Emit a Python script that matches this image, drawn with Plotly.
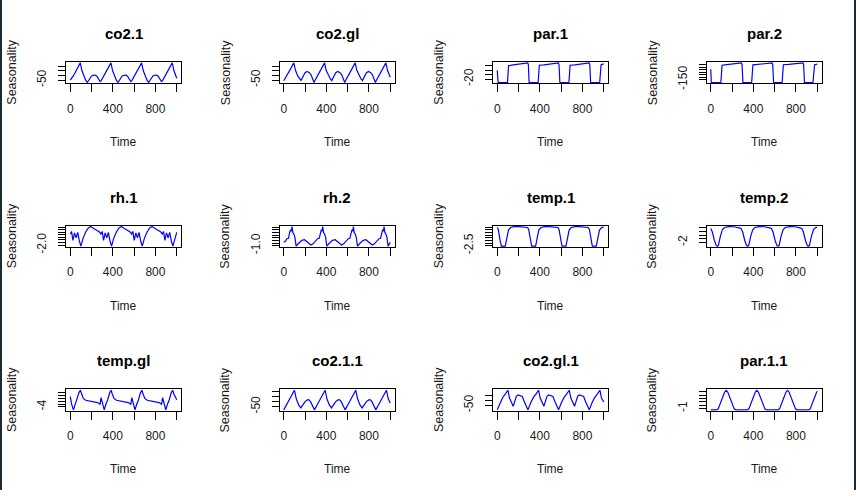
import plotly.graph_objects as go

# seasonal component of each series
co2_1_t = [0, 30, 60, 94, 110, 130, 145, 160, 180, 200, 220, 235, 250, 265, 280,
           288, 318, 348, 382, 398, 418, 433, 448, 468, 488, 508, 523, 538, 553, 568,
           576, 606, 636, 670, 686, 706, 721, 736, 756, 776, 796, 811, 826, 841, 856,
           864, 894, 924, 958, 974, 994, 1000]
co2_1_v = [-48, -1, 63, 137, 52, -11, -50, -75, -43, -5, 3, 6, -7, -33, -64,
           -60, -1, 63, 137, 52, -11, -50, -75, -43, -5, 3, 6, -7, -33, -64,
           -60, -1, 63, 137, 52, -11, -50, -75, -43, -5, 3, 6, -7, -33, -64,
           -60, -1, 63, 137, 52, -11, -28]

co2_gl_t = [0, 30, 60, 95, 110, 130, 150, 163, 180, 200, 220, 240, 255, 270, 285,
            288, 318, 348, 383, 398, 418, 438, 451, 468, 488, 508, 528, 543, 558, 573,
            576, 606, 636, 671, 686, 706, 726, 739, 756, 776, 796, 816, 831, 846, 861,
            864, 894, 924, 959, 974, 994, 1000]
co2_gl_v = [-58, -2, 64, 137, 56, -2, -38, -56, -13, 30, 43, 30, 9, -38, -77,
            -66, -2, 64, 137, 56, -2, -38, -56, -13, 30, 43, 30, 9, -38, -77,
            -66, -2, 64, 137, 56, -2, -38, -56, -13, 30, 43, 30, 9, -38, -77,
            -66, -2, 64, 137, 56, -2, -20]

par_1_t = [0, 8, 96, 106, 150, 200, 250, 286, 292, 299,
           384, 395, 440, 490, 540, 574, 580, 588,
           673, 684, 730, 780, 830, 863, 869, 877,
           962, 975, 1000]
par_1_v = [19, -35.5, -35.5, 40, 44, 46, 48, 52.5, 45, -35.5,
           -35.5, 42, 44, 46, 48, 52.5, 45, -35.5,
           -35.5, 42, 44, 46, 48, 52.5, 45, -35.5,
           -35.5, 44, 48]

par_2_t = [0, 5, 95, 106, 150, 200, 250, 288, 294, 302,
           384, 396, 440, 490, 540, 576, 582, 590,
           670, 682, 730, 780, 830, 866, 872, 880,
           960, 975, 1000]
par_2_v = [60, -206, -206, 140, 150, 160, 168, 186, 150, -206,
           -206, 148, 155, 162, 170, 186, 150, -206,
           -206, 150, 156, 162, 170, 186, 150, -206,
           -206, 150, 160]

rh_1_t = [0, 12, 25, 40, 55, 70, 86, 100, 120, 145, 170, 192, 220, 250, 275,
          288, 300, 313, 328, 343, 358, 374, 388, 408, 433, 458, 480, 508, 538, 563,
          576, 588, 601, 616, 631, 646, 662, 676, 696, 721, 746, 768, 796, 826, 851,
          864, 876, 889, 904, 919, 934, 950, 964, 984, 1000]
rh_1_v = [0.16, 0.65, -1.06, 0.38, -0.6, 0.46, -1.25, -2.2, -0.68, 0.54, 1.33, 1.6, 1.22, 0.92, 0.54,
          0.16, 0.65, -1.06, 0.38, -0.6, 0.46, -1.25, -2.2, -0.68, 0.54, 1.33, 1.6, 1.22, 0.92, 0.54,
          0.16, 0.65, -1.06, 0.38, -0.6, 0.46, -1.25, -2.2, -0.68, 0.54, 1.33, 1.6, 1.22, 0.92, 0.54,
          0.16, 0.65, -1.06, 0.38, -0.6, 0.46, -1.25, -2.2, -0.68, 0.46]

rh_2_t = [0, 15, 30, 45, 55, 65, 72, 78, 85, 95, 105, 116, 140, 170, 195, 225, 255, 275,
          288, 303, 318, 333, 343, 353, 360, 366, 373, 383, 393, 404, 428, 458, 483, 513, 543, 563,
          576, 591, 606, 621, 631, 641, 648, 654, 661, 671, 681, 692, 716, 746, 771, 801, 831, 851,
          864, 879, 894, 909, 919, 929, 936, 942, 949, 959, 969, 980, 1000]
rh_2_v = [-0.36, -0.18, 0.31, 0.38, 1.49, 2.01, 1.71, 2.6, 1.49, 1.19, 0.57, -1.1, -0.55, 0.01, 0.12, -0.36, -0.88, -0.66,
          -0.36, -0.18, 0.31, 0.38, 1.49, 2.01, 1.71, 2.6, 1.49, 1.19, 0.57, -1.1, -0.55, 0.01, 0.12, -0.36, -0.88, -0.66,
          -0.36, -0.18, 0.31, 0.38, 1.49, 2.01, 1.71, 2.6, 1.49, 1.19, 0.57, -1.1, -0.55, 0.01, 0.12, -0.36, -0.88, -0.66,
          -0.36, -0.18, 0.31, 0.38, 1.49, 2.01, 1.71, 2.6, 1.49, 1.19, 0.57, -1.1, -0.36]

temp_1_t = [0, 10, 25, 38, 75, 90, 105, 125, 160, 200, 240, 270,
            285, 295, 310, 323, 360, 375, 390, 410, 445, 485, 525, 555,
            570, 580, 595, 608, 645, 660, 675, 695, 730, 770, 810, 840,
            855, 865, 880, 893, 930, 945, 960, 980, 1000]
temp_1_v = [0.92, 0.55, -1.3, -2.6, -2.6, -0.94, 0.43, 0.92, 1.1, 1.08, 1.03, 0.95,
            0.92, 0.55, -1.3, -2.6, -2.6, -0.94, 0.43, 0.92, 1.1, 1.08, 1.03, 0.95,
            0.92, 0.55, -1.3, -2.6, -2.6, -0.94, 0.43, 0.92, 1.1, 1.08, 1.03, 0.95,
            0.92, 0.55, -1.3, -2.6, -2.6, -0.94, 0.43, 0.92, 0.99]

temp_2_t = [0, 15, 35, 52, 62, 72, 90, 110, 130, 170, 220, 260, 275,
            285, 300, 320, 337, 347, 357, 375, 395, 415, 455, 505, 545, 560,
            570, 585, 605, 622, 632, 642, 660, 680, 700, 740, 790, 830, 845,
            855, 870, 890, 907, 917, 927, 945, 965, 985, 1000]
temp_2_v = [1.77, 0.82, -1.52, -2.84, -3.0, -2.79, -0.35, 1.5, 2.04, 2.3, 2.25, 2.09, 1.88,
            1.77, 0.82, -1.52, -2.84, -3.0, -2.79, -0.35, 1.5, 2.04, 2.3, 2.25, 2.09, 1.88,
            1.77, 0.82, -1.52, -2.84, -3.0, -2.79, -0.35, 1.5, 2.04, 2.3, 2.25, 2.09, 1.88,
            1.77, 0.82, -1.52, -2.84, -3.0, -2.79, -0.35, 1.5, 2.04, 2.1]

temp_gl_t = [0, 12, 30, 45, 62, 82, 95, 105, 122, 145, 185, 225, 255, 272, 280,
             289, 301, 319, 334, 351, 371, 384, 394, 411, 434, 474, 514, 544, 561, 569,
             578, 590, 608, 623, 640, 660, 673, 683, 700, 723, 763, 803, 833, 850, 858,
             867, 879, 897, 912, 929, 949, 962, 972, 989, 1000]
temp_gl_v = [-0.38, -2.96, -5.0, -3.16, -1.6, 0.98, 1.8, 0.58, -1.06, -1.67, -1.94, -2.14, -2.48, -2.82, -3.16,
             -0.78, -2.96, -5.0, -3.16, -1.6, 0.98, 1.8, 0.58, -1.06, -1.67, -1.94, -2.14, -2.48, -2.82, -3.16,
             -0.78, -2.96, -5.0, -3.16, -1.6, 0.98, 1.8, 0.58, -1.06, -1.67, -1.94, -2.14, -2.48, -2.82, -3.16,
             -0.78, -2.96, -5.0, -3.16, -1.6, 0.98, 1.8, 0.58, -1.06, -1.5]

co2_1_1_t = [0, 30, 65, 100, 118, 140, 160, 175, 200, 225, 240, 255, 270, 285,
             288, 318, 353, 388, 406, 428, 448, 463, 488, 513, 528, 543, 558, 573,
             576, 606, 641, 676, 694, 716, 736, 751, 776, 801, 816, 831, 846, 861,
             864, 894, 929, 964, 982, 1000]
co2_1_1_v = [-82, -22, 48, 118, 28, -32, -62, -42, 2, 22, 18, -6, -46, -76,
             -82, -22, 48, 118, 28, -32, -62, -42, 2, 22, 18, -6, -46, -76,
             -82, -22, 48, 118, 28, -32, -62, -42, 2, 22, 18, -6, -46, -76,
             -82, -22, 48, 118, 28, -12]

co2_gl_1_t = [0, 25, 50, 75, 100, 115, 135, 150, 165, 180, 195, 215, 235, 255, 275,
              288, 313, 338, 363, 388, 403, 423, 438, 453, 468, 483, 503, 523, 543, 563,
              576, 601, 626, 651, 676, 691, 711, 726, 741, 756, 771, 791, 811, 831, 851,
              864, 889, 914, 939, 964, 979, 1000]
co2_gl_1_v = [-94, -27, 25, 60, 98, 21, -36, -59, -8, 40, 52, 48, 37, -17, -71,
              -94, -27, 25, 60, 98, 21, -36, -59, -8, 40, 52, 48, 37, -17, -71,
              -94, -27, 25, 60, 98, 21, -36, -59, -8, 40, 52, 48, 37, -17, -71,
              -94, -27, 25, 60, 98, 21, -17]

par_1_1_t = [0, 55, 70, 90, 110, 130, 145, 160, 180, 200, 220, 235,
             288, 343, 358, 378, 398, 418, 433, 448, 468, 488, 508, 523,
             576, 631, 646, 666, 686, 706, 721, 736, 756, 776, 796, 811,
             864, 919, 934, 954, 974, 994, 1000]
par_1_1_v = [-1.4, -1.4, -1.1, 0.37, 2.26, 3.91, 4.5, 3.91, 2.14, 0.25, -1.1, -1.4,
             -1.4, -1.4, -1.1, 0.37, 2.26, 3.91, 4.5, 3.91, 2.14, 0.25, -1.1, -1.4,
             -1.4, -1.4, -1.1, 0.37, 2.26, 3.91, 4.5, 3.91, 2.14, 0.25, -1.1, -1.4,
             -1.4, -1.4, -1.1, 0.37, 2.26, 3.91, 4.2]

titles = ["co2.1", "co2.gl", "par.1", "par.2",
          "rh.1", "rh.2", "temp.1", "temp.2",
          "temp.gl", "co2.1.1", "co2.gl.1", "par.1.1"]

series = [(co2_1_t, co2_1_v), (co2_gl_t, co2_gl_v), (par_1_t, par_1_v), (par_2_t, par_2_v),
          (rh_1_t, rh_1_v), (rh_2_t, rh_2_v), (temp_1_t, temp_1_v), (temp_2_t, temp_2_v),
          (temp_gl_t, temp_gl_v), (co2_1_1_t, co2_1_1_v), (co2_gl_1_t, co2_gl_1_v), (par_1_1_t, par_1_1_v)]

# y ticks per panel; R only had room to print the lowest label
y_ticks = [[-50, 0, 50, 100], [-50, 0, 50, 100], [-20, 0, 20, 40],
           [-150, -100, -50, 0, 50, 100, 150],
           [-2.0, -1.5, -1.0, -0.5, 0, 0.5, 1.0, 1.5],
           [-1.0, -0.5, 0, 0.5, 1.0, 1.5, 2.0, 2.5],
           [-2.5, -2.0, -1.5, -1.0, -0.5, 0, 0.5, 1.0],
           [-2, -1, 0, 1, 2], [-4, -3, -2, -1, 0, 1],
           [-50, 0, 50, 100], [-50, 0, 50], [-1, 0, 1, 2, 3, 4]]
y_labels = ["-50", "-50", "-20", "-150", "-2.0", "-1.0", "-2.5", "-2", "-4", "-50", "-50", "-1"]

x_ticks = [0, 200, 400, 600, 800, 1000]
x_labels = ["0", "", "400", "", "800", ""]

W, H = 856, 497
col_left = [66, 279.5, 493, 706.5]
row_top = [63, 229, 395]
box_w, box_h = 115, 21.5
FONT = "Liberation Sans, Arial, sans-serif"

fig = go.Figure()
annotations = []
layout_axes = {}

for i, (t, v) in enumerate(series):
    r, c = divmod(i, 4)
    n = "" if i == 0 else str(i + 1)
    fig.add_trace(go.Scatter(
        x=t, y=v, mode="lines",
        line=dict(color="#0000ff", width=1.2),
        xaxis="x" + n, yaxis="y" + n,
        showlegend=False, hoverinfo="skip",
    ))

    left = col_left[c]
    top = row_top[r]
    x0, x1 = left / W, (left + box_w) / W
    y0, y1 = 1 - (top + box_h) / H, 1 - top / H

    # R style 4% padding around the data
    lo, hi = min(v), max(v)
    pad = 0.04 * (hi - lo)

    common = dict(showline=True, mirror=True, linecolor="black", linewidth=1,
                  ticks="outside", tickcolor="black", tickwidth=1,
                  showgrid=False, zeroline=False, fixedrange=True,
                  tickfont=dict(family=FONT, size=12, color="#1a1a1a"))

    layout_axes["xaxis" + n] = dict(
        domain=[x0, x1], anchor="y" + n, range=[-40, 1040],
        tickmode="array", tickvals=x_ticks, ticktext=x_labels,
        ticklen=8, ticklabelstandoff=6, **common)
    layout_axes["yaxis" + n] = dict(
        domain=[y0, y1], anchor="x" + n, range=[lo - pad, hi + pad],
        tickmode="array", tickvals=y_ticks[i],
        ticktext=[y_labels[i]] + [""] * (len(y_ticks[i]) - 1),
        ticklen=7, tickangle=-90, ticklabelstandoff=7, **common)

    cx = (left + box_w / 2) / W
    annotations.append(dict(
        text="<b>" + titles[i] + "</b>", x=cx, y=1 - (top - 29) / H,
        xref="paper", yref="paper", showarrow=False,
        xanchor="center", yanchor="middle",
        font=dict(family=FONT, size=15, color="black")))
    annotations.append(dict(
        text="Time", x=cx, y=1 - (top + box_h + 59.5) / H,
        xref="paper", yref="paper", showarrow=False,
        xanchor="center", yanchor="middle",
        font=dict(family=FONT, size=12, color="#1a1a1a")))
    annotations.append(dict(
        text="Seasonality", x=(left - 54) / W, y=1 - (top + box_h / 2) / H,
        xref="paper", yref="paper", showarrow=False, textangle=-90,
        xanchor="center", yanchor="middle",
        font=dict(family=FONT, size=12.5, color="#1a1a1a")))

# dark window edge visible at both sides of the screenshot
shapes = [
    dict(type="rect", xref="paper", yref="paper", x0=0, x1=2 / W, y0=0, y1=1,
         fillcolor="#1c2a33", line=dict(width=0)),
    dict(type="rect", xref="paper", yref="paper", x0=854 / W, x1=1, y0=0, y1=1,
         fillcolor="#1c2a33", line=dict(width=0)),
]

fig.update_layout(
    width=W, height=H, autosize=False,
    margin=dict(l=0, r=0, t=0, b=0),
    paper_bgcolor="white", plot_bgcolor="white",
    font=dict(family=FONT),
    annotations=annotations, shapes=shapes,
    **layout_axes,
)

# drop the browser's default body margin so the figure fills the window
fig.write_html("out.html", config={"displayModeBar": False},
               post_script="document.body.style.margin = '0px';")
